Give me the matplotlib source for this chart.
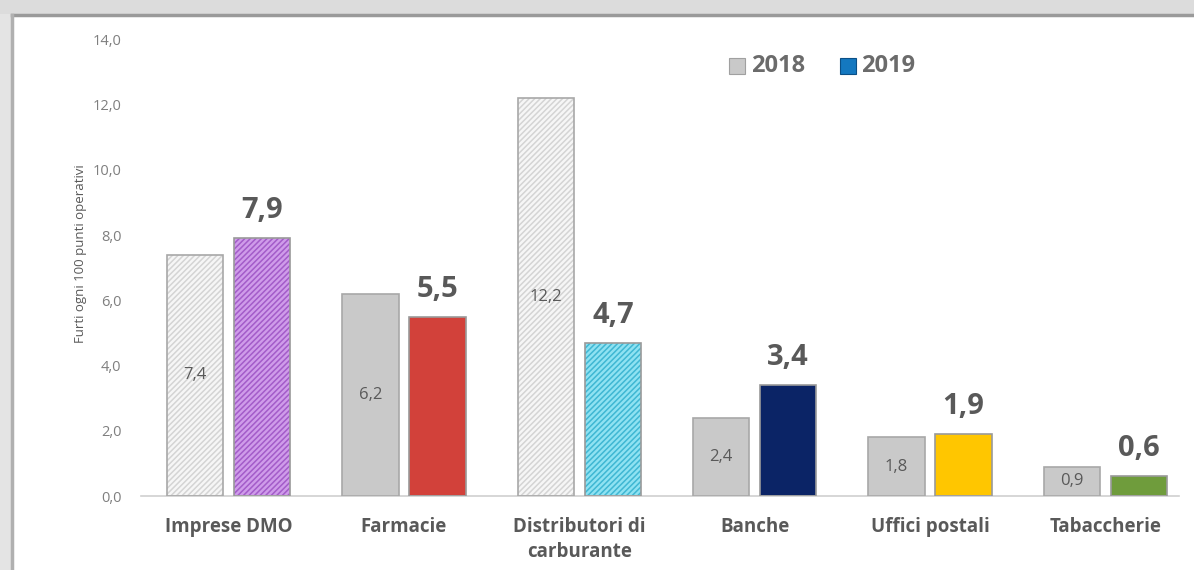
import matplotlib
matplotlib.use("Agg")
import matplotlib.pyplot as plt
import numpy as np
from matplotlib.patches import Rectangle

plt.rcParams['font.family'] = ['Open Sans', 'DejaVu Sans']
plt.rcParams['hatch.linewidth'] = 1.1

categories = ["Imprese DMO", "Farmacie", "Distributori di\ncarburante", "Banche", "Uffici postali", "Tabaccherie"]
values_2018 = [7.4, 6.2, 12.2, 2.4, 1.8, 0.9]
values_2019 = [7.9, 5.5, 4.7, 3.4, 1.9, 0.6]
yticks = [0, 2, 4, 6, 8, 10, 12, 14]

# colour / hatch per category
colors_2019 = ["#cf9cea", "#d2413a", "#8fe2f2", "#0b2466", "#ffc600", "#6f9c3c"]
hatch_2019 = ["#a35cc9", None, "#3fb7d3", None, None, None]
hatched_2018 = [True, False, True, False, False, False]

W, H = 1194, 570
fig = plt.figure(figsize=(W / 100, H / 100), dpi=100)
fig.patch.set_facecolor("#e4e4e4")

# frame: white panel with a grey rim on top/left
fig.patches.append(Rectangle((12 / W, 0), 1, 1 - 15 / H, transform=fig.transFigure,
                             facecolor="white", edgecolor="none", zorder=-3))
fig.patches.append(Rectangle((0, 1 - 14 / H), 1, 14 / H, transform=fig.transFigure,
                             facecolor="#dcdcdc", edgecolor="none", zorder=-3))
fig.lines.append(plt.Line2D([12 / W, 1], [1 - 14.5 / H, 1 - 14.5 / H], transform=fig.transFigure,
                            color="#9a9a9a", lw=2.5, zorder=-2))
fig.lines.append(plt.Line2D([11.5 / W, 11.5 / W], [0, 1 - 14.5 / H], transform=fig.transFigure,
                            color="#b0b0b0", lw=2.5, zorder=-2))

left, right = 141 / W, 1193 / W
bottom, top = 1 - 496 / H, 1 - 39.5 / H
ax = fig.add_axes([left, bottom, right - left, top - bottom])
ax.set_facecolor("none")

x = np.arange(len(categories))
bw = 0.32
off = 0.191
label_color = "#595959"

for i in range(len(categories)):
    # 2018 bar
    if hatched_2018[i]:
        ax.bar(x[i] - off, values_2018[i], bw, color="#f6f6f6", edgecolor="#d4d4d4",
               hatch="//////", linewidth=0, zorder=2)
    else:
        ax.bar(x[i] - off, values_2018[i], bw, color="#c9c9c9", linewidth=0, zorder=2)
    ax.bar(x[i] - off, values_2018[i], bw, color="none", edgecolor="#a8a8a8",
           linewidth=1.2, zorder=3)
    ax.text(x[i] - off, values_2018[i] / 2, f"{values_2018[i]:.1f}".replace(".", ","),
            ha="center", va="center", fontsize=12, color=label_color, zorder=4)

    # 2019 bar
    if hatch_2019[i]:
        ax.bar(x[i] + off, values_2019[i], bw, color=colors_2019[i], edgecolor=hatch_2019[i],
               hatch="//////", linewidth=0, zorder=2)
    else:
        ax.bar(x[i] + off, values_2019[i], bw, color=colors_2019[i], linewidth=0, zorder=2)
    ax.bar(x[i] + off, values_2019[i], bw, color="none", edgecolor="#9a9a9a",
           linewidth=1.2, zorder=3)
    ax.text(x[i] + off, values_2019[i] + 0.4, f"{values_2019[i]:.1f}".replace(".", ","),
            ha="center", va="bottom", fontsize=21, fontweight="bold", color=label_color, zorder=4)

ax.set_xlim(-0.5, len(categories) - 0.5)
ax.set_ylim(0, 14)
ax.set_yticks(yticks)
ax.set_yticklabels([f"{v:.1f}".replace(".", ",") for v in yticks], fontsize=10.5, color="#7f7f7f")
ax.set_xticks(x)
ax.set_xticklabels(categories, fontsize=13.5, fontweight="bold", color=label_color, linespacing=1.35)
ax.tick_params(axis="both", length=0)
ax.tick_params(axis="x", pad=15)
ax.tick_params(axis="y", pad=14)
for s in ["top", "right", "left"]:
    ax.spines[s].set_visible(False)
ax.spines["bottom"].set_color("#d0d0d0")
ax.spines["bottom"].set_linewidth(1.2)
ax.spines["bottom"].set_bounds(-0.5, 5.42)

ax.set_ylabel("Furti ogni 100 punti operativi", fontsize=9.5, color="#595959")
ax.yaxis.set_label_coords(-0.051, 0.53)

# legend
fig.patches.append(Rectangle((729 / W, 1 - 74 / H), 16 / W, 16 / H, transform=fig.transFigure,
                             facecolor="#c9c9c9", edgecolor="#a0a0a0", lw=0.8, zorder=5))
fig.text(751 / W, 1 - 66 / H, "2018", fontsize=17, fontweight="bold", color="#6b6b6b", va="center")
fig.patches.append(Rectangle((840 / W, 1 - 74 / H), 16 / W, 16 / H, transform=fig.transFigure,
                             facecolor="#1478c0", edgecolor="#0b4f86", lw=0.8, zorder=5))
fig.text(861 / W, 1 - 66 / H, "2019", fontsize=17, fontweight="bold", color="#6b6b6b", va="center")

fig.savefig("out.png", dpi=100, facecolor=fig.get_facecolor())
